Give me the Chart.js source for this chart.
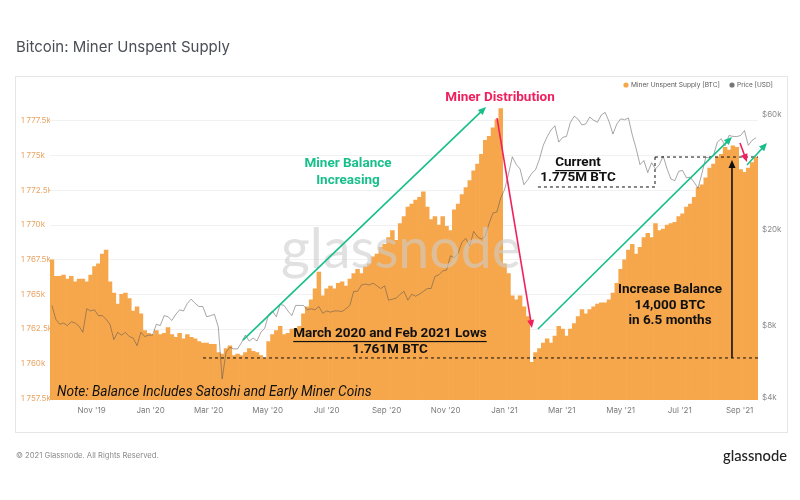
<!DOCTYPE html>
<html lang="en">
<head>
<meta charset="UTF-8">
<title>Bitcoin: Miner Unspent Supply</title>
<script src="https://cdn.jsdelivr.net/npm/chart.js"></script>
<style>
  body { margin: 0; background: #fff; }
  #wrap { position: relative; width: 800px; height: 500px; }
</style>
</head>
<body>
<div id="wrap"><canvas id="chart" width="800" height="500"></canvas></div>
<script>
// one sample every 4 days starting on this date
const startDate = '2019-09-21';
const stepDays = 4;

// miner unspent supply, thousand BTC
const supply = [
  1767.5,1766.3,1766.3,1766.4,1766.1,1766.3,1765.9,1766.1,1766.1,1765.9,
  1766.4,1767.0,1767.2,1767.9,1768.2,1765.9,1765.1,1764.3,1765.0,1765.1,
  1764.7,1763.8,1764.1,1763.6,1762.4,1762.2,1762.1,1762.4,1762.1,1762.2,
  1762.6,1762.1,1761.9,1762.2,1761.8,1762.1,1761.9,1761.8,1761.6,1761.5,
  1761.5,1761.4,1761.4,1760.8,1760.7,1761.1,1761.3,1760.6,1760.7,1760.6,
  1760.8,1761.1,1760.9,1760.8,1760.6,1760.4,1761.6,1762.1,1762.4,1762.7,
  1762.1,1762.2,1762.5,1762.5,1762.7,1763.6,1764.1,1764.6,1765.4,1766.6,
  1764.9,1765.4,1765.6,1765.4,1765.8,1765.9,1765.6,1766.1,1766.5,1766.8,
  1766.5,1767.0,1767.2,1767.7,1767.9,1768.4,1768.6,1769.1,1769.6,1768.9,
  1770.1,1770.6,1771.3,1771.5,1771.8,1772.0,1772.4,1771.3,1770.4,1770.6,
  1770.0,1770.6,1769.9,1769.6,1771.1,1771.5,1772.2,1772.7,1773.2,1773.9,
  1774.4,1775.1,1776.1,1776.4,1777.0,1777.6,1778.4,1767.2,1766.5,1764.9,
  1764.6,1764.9,1764.1,1763.4,1760.1,1760.8,1761.1,1761.5,1761.8,1761.5,
  1762.0,1762.7,1762.5,1762.0,1762.5,1762.9,1763.4,1763.9,1763.6,1763.9,
  1764.1,1764.3,1764.4,1764.4,1764.6,1765.1,1765.8,1766.8,1767.5,1768.2,
  1768.6,1767.9,1768.4,1769.1,1769.4,1769.1,1770.1,1769.6,1769.7,1770.0,
  1770.1,1770.2,1770.6,1770.8,1771.3,1771.5,1772.0,1772.7,1772.9,1773.4,
  1774.1,1774.4,1774.9,1775.1,1775.6,1775.4,1775.7,1775.6,1774.0,1773.8,
  1774.1,1774.5,1774.9
];

// BTC price, USD
const price = [
  9700,8500,8100,8200,8000,8300,8200,7950,7500,9400,
  9200,9300,8800,8800,8500,8100,7000,7500,7300,7500,
  7200,7100,6600,7500,7200,7300,7300,8100,8000,8800,
  8700,8400,8900,9300,9200,9900,10300,9900,9600,9600,
  8700,8800,8900,7900,4800,6200,6500,6400,6400,6800,
  7300,6900,7100,6900,7500,7800,8900,9200,8700,9800,
  9700,9200,8800,9700,9700,9700,9300,9400,9300,9600,
  9000,9200,9100,9200,9200,9150,9400,9700,11100,11100,
  11800,11900,11800,12000,11700,11400,11700,10200,10300,10400,
  10800,11100,10200,10800,10600,10800,11100,11400,11400,12800,
  13000,13500,13600,15600,15300,16000,17800,18400,17100,19700,
  18700,18300,18800,21300,23500,23700,27100,29400,34000,40200,
  37400,35800,30800,32300,34300,35500,39300,44900,48700,52000,
  54100,46300,48400,48900,55900,59300,57600,54500,55100,58800,
  57100,56000,60000,61500,56300,50000,55000,57800,57300,58300,
  49600,43500,37300,38800,34600,38000,35800,37300,40500,35800,
  32500,32000,35000,35300,32900,33100,31500,29800,34300,40000,
  39800,40800,46300,47800,44700,49300,48900,48800,49300,51700,
  44900,47100,48300
];

const monthTicks = ['2019-11-01','2020-01-01','2020-03-01','2020-05-01','2020-07-01','2020-09-01',
                    '2020-11-01','2021-01-01','2021-03-01','2021-05-01','2021-07-01','2021-09-01'];
const monthLabels = ["Nov '19","Jan '20","Mar '20","May '20","Jul '20","Sep '20",
                     "Nov '20","Jan '21","Mar '21","May '21","Jul '21","Sep '21"];
const supplyTicks = [1757.5,1760,1762.5,1765,1767.5,1770,1772.5,1775,1777.5];
const supplyTickLabels = ['1 757.5k','1 760k','1 762.5k','1 765k','1 767.5k','1 770k','1 772.5k','1 775k','1 777.5k'];
const priceTicks = [4000,8000,20000,60000];
const priceTickLabels = ['$4k','$8k','$20k','$60k'];

const dayOf = d => (Date.parse(d) - Date.parse(startDate)) / 86400000;

const GREEN = '#19bf8b';
const RED = '#f0205e';
const ORANGE = '#f6a74c';

// annotations, in [day, supply] units
const arrows = [
  { from: [197.5, 1761.71], to: [448.8, 1778.51], color: GREEN },
  { from: [460.2, 1777.71], to: [496.3, 1762.58], color: RED },
  { from: [502.5, 1762.51], to: [703.1, 1776.35], color: GREEN },
  { from: [711.4, 1775.91], to: [718.6, 1774.54], color: RED },
  { from: [718.6, 1774.33], to: [739.3, 1775.91], color: GREEN },
  { from: [703.1, 1760.42], to: [703.1, 1774.69], color: '#111' }
];
const dashed = [
  [[156.2, 1760.42], [730, 1760.42]],
  [[623.5, 1774.90], [730, 1774.90]],
  [[623.5, 1774.90], [623.5, 1772.74]],
  [[502.5, 1772.74], [623.5, 1772.74]]
];
const notes = [
  { at: [306.1, 1774.40], text: 'Miner Balance', color: GREEN },
  { at: [306.1, 1773.17], text: 'Increasing', color: GREEN },
  { at: [463.3, 1779.16], text: 'Miner Distribution', color: RED },
  { at: [543.9, 1774.47], text: 'Current', color: '#111', underline: true },
  { at: [543.9, 1773.39], text: '1.775M BTC', color: '#111' },
  { at: [639, 1765.32], text: 'Increase Balance', color: '#111' },
  { at: [639, 1764.17], text: '14,000 BTC', color: '#111' },
  { at: [639, 1763.08], text: 'in 6.5 months', color: '#111' },
  { at: [349.5, 1762.15], text: 'March 2020 and Feb 2021 Lows', color: '#111', underline: true },
  { at: [349.5, 1760.99], text: '1.761M BTC', color: '#111' }
];
const footNote = { at: [5.2, 1757.89], text: 'Note: Balance Includes Satoshi and Early Miner Coins' };

function fitText(c, text, family, weight, width) {
  c.font = weight + ' 50px ' + family;
  const w = c.measureText(text).width;
  c.font = weight + ' ' + (50 * width / w).toFixed(2) + 'px ' + family;
}

const decor = {
  id: 'decor',
  beforeDraw(chart) {
    const c = chart.ctx;
    c.save();
    c.fillStyle = '#fff';
    c.fillRect(0, 0, 800, 500);
    c.strokeStyle = '#e6e6e6';
    c.lineWidth = 1;
    c.strokeRect(15.5, 76.5, 772, 356);
    c.textBaseline = 'middle';
    c.fillStyle = '#4a4e55';
    fitText(c, 'Bitcoin: Miner Unspent Supply', 'Inter', '400', 214);
    c.fillText('Bitcoin: Miner Unspent Supply', 16, 47);
    // legend
    c.fillStyle = ORANGE;
    c.beginPath(); c.arc(626, 85, 2.6, 0, Math.PI * 2); c.fill();
    c.fillStyle = '#777';
    c.beginPath(); c.arc(732, 85, 2.6, 0, Math.PI * 2); c.fill();
    c.fillStyle = '#5a5a5a';
    fitText(c, 'Miner Unspent Supply [BTC]', 'Inter', '400', 89);
    c.fillText('Miner Unspent Supply [BTC]', 631, 85.5);
    fitText(c, 'Price [USD]', 'Inter', '400', 36);
    c.fillText('Price [USD]', 737, 85.5);
    // footer
    c.fillStyle = '#8a8a8a';
    fitText(c, '\u00a9 2021 Glassnode. All Rights Reserved.', 'Inter', '400', 143);
    c.fillText('\u00a9 2021 Glassnode. All Rights Reserved.', 16, 456);
    c.fillStyle = '#222';
    fitText(c, 'glassnode', 'Lato', '500', 64);
    c.fillText('glassnode', 723, 456);
    c.restore();
  },
  afterDatasetsDraw(chart) {
    const c = chart.ctx;
    const xs = chart.scales.x, ys = chart.scales.y;
    const P = p => [xs.getPixelForValue(p[0]), ys.getPixelForValue(p[1])];
    c.save();
    // watermark
    c.fillStyle = 'rgba(205,205,205,0.6)';
    c.textBaseline = 'alphabetic';
    fitText(c, 'glassnode', 'Lato', '400', 240);
    c.fillText('glassnode', 281, 268);

    // dashed lines
    c.strokeStyle = '#111';
    c.lineWidth = 1;
    c.setLineDash([3, 3]);
    dashed.forEach(([a, b]) => {
      const p = P(a), q = P(b);
      c.beginPath(); c.moveTo(p[0], p[1]); c.lineTo(q[0], q[1]); c.stroke();
    });
    c.setLineDash([]);

    // arrows
    arrows.forEach(a => {
      const p = P(a.from), q = P(a.to);
      const ang = Math.atan2(q[1] - p[1], q[0] - p[0]);
      const hl = 8, hw = 3.5;
      c.strokeStyle = a.color; c.fillStyle = a.color; c.lineWidth = 1.6;
      c.beginPath(); c.moveTo(p[0], p[1]);
      c.lineTo(q[0] - Math.cos(ang) * hl * 0.8, q[1] - Math.sin(ang) * hl * 0.8); c.stroke();
      c.beginPath();
      c.moveTo(q[0], q[1]);
      c.lineTo(q[0] - Math.cos(ang) * hl - Math.sin(ang) * hw, q[1] - Math.sin(ang) * hl + Math.cos(ang) * hw);
      c.lineTo(q[0] - Math.cos(ang) * hl + Math.sin(ang) * hw, q[1] - Math.sin(ang) * hl - Math.cos(ang) * hw);
      c.closePath(); c.fill();
    });

    // text notes
    c.textAlign = 'center';
    c.textBaseline = 'middle';
    c.font = 'bold 13.5px Roboto';
    notes.forEach(n => {
      const p = P(n.at);
      c.fillStyle = n.color;
      c.fillText(n.text, p[0], p[1]);
      if (n.underline) {
        const w = c.measureText(n.text).width;
        c.fillRect(p[0] - w / 2, p[1] + 7, w, 1.2);
      }
    });
    c.textAlign = 'left';
    c.fillStyle = '#111';
    fitText(c, footNote.text, 'Roboto', 'italic 400', 315);
    const f = P(footNote.at);
    c.fillText(footNote.text, f[0], f[1]);
    c.restore();
  }
};

new Chart(document.getElementById('chart'), {
  type: 'bar',
  data: {
    datasets: [
      {
        type: 'line',
        label: 'Price [USD]',
        data: price.map((p, i) => ({ x: i * stepDays, y: p })),
        yAxisID: 'yPrice',
        borderColor: 'rgba(80,80,80,0.5)',
        borderWidth: 1,
        pointRadius: 0,
        order: 0
      },
      {
        type: 'bar',
        label: 'Miner Unspent Supply [BTC]',
        data: supply.map((v, i) => ({ x: i * stepDays, y: v })),
        yAxisID: 'y',
        backgroundColor: ORANGE,
        barPercentage: 1,
        categoryPercentage: 1,
        order: 1
      }
    ]
  },
  options: {
    responsive: false,
    animation: false,
    layout: { padding: { left: 21, right: 12, top: 90, bottom: 78 } },
    plugins: { legend: { display: false }, tooltip: { enabled: false } },
    scales: {
      x: {
        type: 'linear',
        offset: false,
        min: -2,
        max: 730,
        grid: { display: false, drawTicks: false },
        border: { display: false },
        afterBuildTicks: s => { s.ticks = monthTicks.map(d => ({ value: dayOf(d) })); },
        afterFit: s => { s.height = 22; },
        ticks: {
          autoSkip: false, maxRotation: 0, padding: 6,
          color: '#7a7a7a', font: { family: 'Inter', size: 8 },
          callback: (v, i) => monthLabels[i]
        }
      },
      y: {
        position: 'left',
        min: 1757.39,
        max: 1779.73,
        grid: { color: '#f1f1f1', drawTicks: false },
        border: { display: false },
        afterBuildTicks: s => { s.ticks = supplyTicks.map(v => ({ value: v })); },
        afterFit: s => { s.width = 29; },
        ticks: {
          crossAlign: 'far', padding: 0,
          color: '#e8a464', font: { family: 'Inter', size: 8 },
          callback: (v, i) => supplyTickLabels[i]
        }
      },
      yPrice: {
        type: 'logarithmic',
        position: 'right',
        min: 3925,
        max: 76200,
        grid: { display: false, drawTicks: false },
        border: { display: false },
        afterBuildTicks: s => { s.ticks = priceTicks.map(v => ({ value: v })); },
        afterFit: s => { s.width = 30; },
        ticks: {
          padding: 4,
          color: '#8a8a8a', font: { family: 'Inter', size: 8 },
          callback: (v, i) => priceTickLabels[i]
        }
      }
    }
  },
  plugins: [decor]
});
</script>
</body>
</html>
